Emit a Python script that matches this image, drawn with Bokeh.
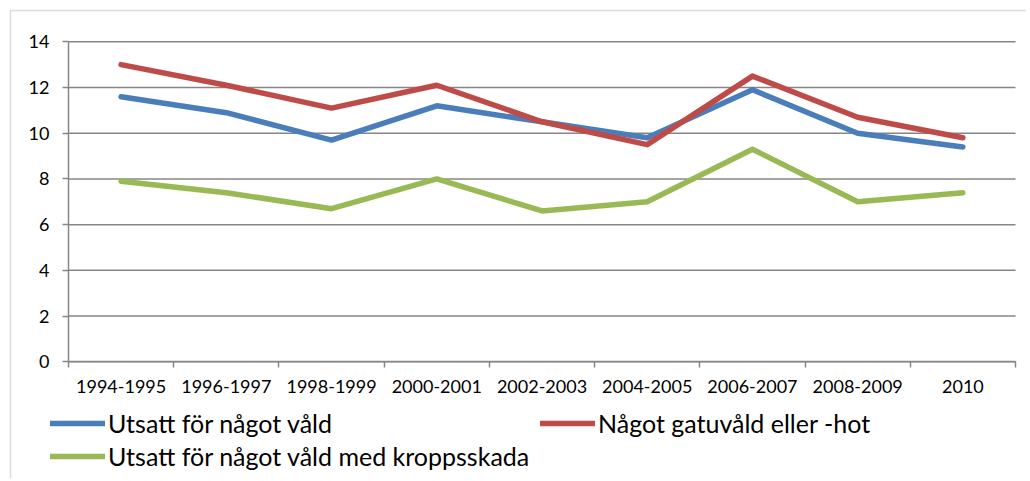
from bokeh.plotting import figure
from bokeh.models import FixedTicker, Legend, LegendItem, Range1d, BoxAnnotation
from bokeh.embed import file_html
from bokeh.resources import INLINE

periods = ["1994-1995", "1996-1997", "1998-1999", "2000-2001", "2002-2003",
           "2004-2005", "2006-2007", "2008-2009", "2010"]
vald = [11.6, 10.9, 9.7, 11.2, 10.5, 9.8, 11.9, 10.0, 9.4]
gatuvald = [13.0, 12.1, 11.1, 12.1, 10.5, 9.5, 12.5, 10.7, 9.8]
kropp = [7.9, 7.4, 6.7, 8.0, 6.6, 7.0, 9.3, 7.0, 7.4]
y_ticks = [0, 2, 4, 6, 8, 10, 12, 14]

series = [
    ("Utsatt för något våld", vald, "#4A7EBB"),
    ("Något gatuvåld eller -hot", gatuvald, "#BE4B48"),
    ("Utsatt för något våld med kroppsskada", kropp, "#98B954"),
]

n = len(periods)
xs = [i + 0.5 for i in range(n)]
y_max = y_ticks[-1]

# layout (pixels): plot area left/right/top/bottom inside the canvas
W, H = 1026, 478
PL, PR, PT, PB = 68.0, 1015.0, 41.3, 361.3
kx = (PR - PL) / n
ky = (PB - PT) / y_max
x_range = Range1d(-PL / kx, (W - PL) / kx)
y_range = Range1d(-(H - PB) / ky, PB / ky)

p = figure(width=W, height=H, output_backend="svg", toolbar_location=None,
           x_range=x_range, y_range=y_range, min_border=0)
p.outline_line_color = None
p.background_fill_color = "white"
p.border_fill_color = "white"
p.xgrid.visible = False
p.ygrid.visible = False

grey = "#868686"
tick_font = "Lato"

# outer chart frame (screen units measured from the bottom-left corner)
p.add_layout(BoxAnnotation(left=10, right=W + 50, top=H - 10, bottom=-50,
                           left_units="screen", right_units="screen",
                           top_units="screen", bottom_units="screen",
                           fill_alpha=0, line_color="#8c8c8c", line_width=1.5,
                           level="underlay"))

# horizontal gridlines
p.segment(x0=[0] * len(y_ticks), x1=[n] * len(y_ticks), y0=y_ticks, y1=y_ticks,
          line_color=grey, line_width=1.5)

# x axis
xa = p.xaxis[0]
xa.fixed_location = 0
xa.bounds = (0, n)
xa.ticker = FixedTicker(ticks=xs, minor_ticks=list(range(n + 1)))
xa.major_label_overrides = {x: lab for x, lab in zip(xs, periods)}
xa.major_tick_line_color = None
xa.major_tick_out = 6
xa.major_tick_in = 0
xa.minor_tick_line_color = grey
xa.minor_tick_line_width = 1.5
xa.minor_tick_out = 6
xa.minor_tick_in = 0
xa.axis_line_color = grey
xa.axis_line_width = 1.5
xa.major_label_text_font = tick_font
xa.major_label_text_font_size = "18px"
xa.major_label_text_color = "black"
xa.major_label_standoff = 12

ya = p.yaxis[0]
ya.fixed_location = 0
ya.bounds = (0, y_max)
ya.ticker = FixedTicker(ticks=y_ticks)
ya.minor_tick_line_color = None
ya.major_tick_line_color = grey
ya.major_tick_line_width = 1.5
ya.major_tick_out = 6
ya.major_tick_in = 0
ya.axis_line_color = grey
ya.axis_line_width = 1.5
ya.major_label_text_font = tick_font
ya.major_label_text_font_size = "18px"
ya.major_label_text_color = "black"
ya.major_label_standoff = 13

renderers = []
for name, vals, col in series:
    r = p.line(xs, vals, line_color=col, line_width=5.5, line_cap="round", line_join="round")
    renderers.append((name, r))

leg_style = dict(glyph_width=55, glyph_height=30, label_height=30, label_standoff=3,
                 spacing=3, padding=0, margin=0, border_line_color=None,
                 background_fill_alpha=0, label_text_font="Lato",
                 label_text_font_size="25px", label_text_color="black")

leg_a = Legend(items=[LegendItem(label=renderers[0][0], renderers=[renderers[0][1]]),
                      LegendItem(label=renderers[2][0], renderers=[renderers[2][1]])],
               location=(50, 7), orientation="vertical", **leg_style)
leg_b = Legend(items=[LegendItem(label=renderers[1][0], renderers=[renderers[1][1]])],
               location=(540, 40), orientation="vertical", **leg_style)
p.add_layout(leg_a)
p.add_layout(leg_b)

open("out.html", "w").write(file_html(p, INLINE))
